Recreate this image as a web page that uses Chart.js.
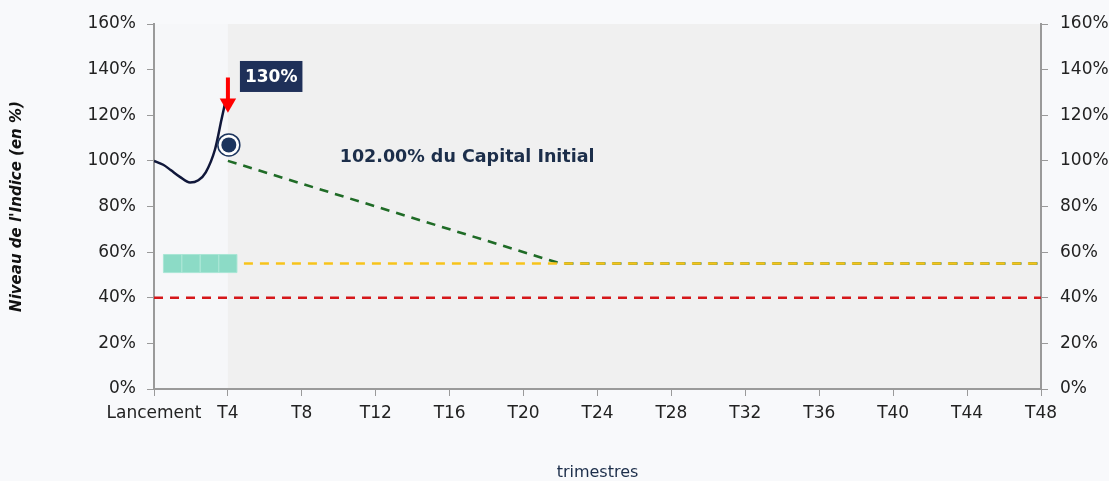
<!DOCTYPE html>
<html>
<head>
<meta charset="utf-8">
<script src="https://cdn.jsdelivr.net/npm/chart.js@4.4.1/dist/chart.umd.min.js"></script>
<style>
  html, body { margin: 0; padding: 0; background: #f8f9fb; }
  #wrap { width: 1109px; height: 481px; position: relative; }
</style>
</head>
<body>
<div id="wrap"><canvas id="c"></canvas></div>
<script>
// ---- Data ----
const xTickValues = [0, 4, 8, 12, 16, 20, 24, 28, 32, 36, 40, 44, 48];
const xTickLabels = ['Lancement', 'T4', 'T8', 'T12', 'T16', 'T20', 'T24', 'T28', 'T32', 'T36', 'T40', 'T44', 'T48'];
const yTicks = [0, 20, 40, 60, 80, 100, 120, 140, 160];

const indexX = [0, 0.5, 0.9, 1.4, 1.95, 2.4, 2.8, 3.3, 3.65, 3.85];
const indexY = [100, 98.3, 96, 93, 90.5, 91.5, 95, 105, 118, 125.5];

const capitalX = [4, 22, 48];
const capitalY = [100, 55, 55];

const couponX = [4, 48];
const couponY = [55, 55];

const barrierX = [0, 48];
const barrierY = [40, 40];

const observX = [1, 2, 3, 4];
const observY = [55, 55, 55, 55];

const markerX = [4.05];
const markerY = [107];

const arrowX = [4, 4];
const arrowY = [136.5, 126];
const arrowHeadY = [125.3];

const currentLevelLabel = '130%';
const currentLevelLabelY = 137;
const capitalLabel = '102.00% du Capital Initial';
const capitalLabelX = 10.05;
const capitalLabelY = 101.3;
const shadeStart = 4;

const pts = (xs, ys) => xs.map((x, i) => ({x: x, y: ys[i]}));

const FONT = "'DejaVu Sans', sans-serif";
const NAVY = '#1c2e4a';

const decorPlugin = {
  id: 'decor',
  beforeDraw(chart) {
    const {ctx, chartArea: a, scales} = chart;
    ctx.save();
    ctx.fillStyle = '#f8f9fb';
    ctx.fillRect(0, 0, chart.width, chart.height);
    const xs = scales.x.getPixelForValue(shadeStart);
    ctx.fillStyle = '#f6f7f9';
    ctx.fillRect(a.left, a.top, xs - a.left, a.bottom - a.top);
    ctx.fillStyle = '#f0f0f0';
    ctx.fillRect(xs, a.top, a.right - xs, a.bottom - a.top);
    ctx.restore();
  },
  afterDatasetsDraw(chart) {
    const {ctx, scales} = chart;
    ctx.save();
    // capital label
    ctx.font = "bold 17.5px " + FONT;
    ctx.fillStyle = NAVY;
    ctx.textBaseline = 'middle';
    ctx.textAlign = 'left';
    ctx.fillText(capitalLabel, scales.x.getPixelForValue(capitalLabelX), scales.y.getPixelForValue(capitalLabelY));
    // level label box
    const bx = scales.x.getPixelForValue(4) + 12;
    const by = scales.y.getPixelForValue(currentLevelLabelY);
    ctx.font = "bold 17px " + FONT;
    const w = ctx.measureText(currentLevelLabel).width + 10;
    ctx.fillStyle = '#1f3059';
    ctx.fillRect(bx, by - 15.5, w, 31);
    ctx.fillStyle = '#ffffff';
    ctx.fillText(currentLevelLabel, bx + 5, by + 1);
    ctx.restore();
  }
};

new Chart(document.getElementById('c'), {
  type: 'scatter',
  data: {
    datasets: [
      { // arrow head
        data: pts(arrowX.slice(0, 1), arrowHeadY),
        pointStyle: 'triangle', rotation: 180, pointRadius: 9.5,
        backgroundColor: '#ff0000', borderColor: '#ff0000', borderWidth: 0, showLine: false
      },
      { // arrow shaft
        data: pts(arrowX, arrowY), showLine: true, borderColor: '#ff0000', borderWidth: 4,
        pointRadius: 0
      },
      { // marker inner
        data: pts(markerX, markerY), pointRadius: 7.5, backgroundColor: '#1c355e',
        borderColor: '#1c355e', borderWidth: 0, showLine: false
      },
      { // marker ring
        data: pts(markerX, markerY), pointRadius: 11, backgroundColor: '#ffffff',
        borderColor: '#1c355e', borderWidth: 1.5, showLine: false
      },
      { // index curve
        data: pts(indexX, indexY), showLine: true, borderColor: '#10173a', borderWidth: 2.5,
        pointRadius: 0, cubicInterpolationMode: 'monotone'
      },
      { // observation squares
        data: pts(observX, observY), pointStyle: 'rect', pointRadius: 12.8,
        backgroundColor: '#8cdbc6', borderColor: '#a9e6d5', borderWidth: 1, showLine: false
      },
      { // coupon barrier
        data: pts(couponX, couponY), showLine: true, borderColor: '#f7c31b', borderWidth: 2.4,
        borderDash: [9, 7], pointRadius: 0
      },
      { // capital line
        data: pts(capitalX, capitalY), showLine: true, borderColor: '#1f6b26', borderWidth: 2.6,
        borderDash: [9, 7], pointRadius: 0
      },
      { // protection barrier
        data: pts(barrierX, barrierY), showLine: true, borderColor: '#d5171a', borderWidth: 2.4,
        borderDash: [9, 7], pointRadius: 0
      }
    ]
  },
  options: {
    responsive: true,
    maintainAspectRatio: false,
    animation: false,
    layout: { padding: { top: 24, left: 0, right: 0, bottom: 0 } },
    plugins: { legend: { display: false }, tooltip: { enabled: false } },
    scales: {
      x: {
        type: 'linear', min: 0, max: 48,
        afterBuildTicks(s) { s.ticks = xTickValues.map(v => ({value: v})); },
        afterFit(s) { s.height = 92; },
        grid: { drawOnChartArea: false, tickLength: 7, color: '#9a9a9a' },
        border: { color: '#9a9a9a', width: 2 },
        ticks: {
          autoSkip: false, maxRotation: 0, padding: 7, color: '#222',
          font: { family: FONT, size: 17 },
          callback(v) { const i = xTickValues.indexOf(v); return i >= 0 ? xTickLabels[i] : ''; }
        },
        title: { display: true, text: 'trimestres', color: NAVY, padding: { top: 0, bottom: -1 },
          font: { family: FONT, size: 16 } }
      },
      y: {
        type: 'linear', position: 'left', min: 0, max: 160,
        afterBuildTicks(s) { s.ticks = yTicks.map(v => ({value: v})); },
        afterFit(s) { s.width = 154; },
        grid: { drawOnChartArea: false, tickLength: 7, color: '#9a9a9a' },
        border: { color: '#9a9a9a', width: 2 },
        ticks: { padding: 11, color: '#222', font: { family: FONT, size: 17 }, callback: v => v + '%' },
        title: { display: true, text: "Niveau de l'Indice (en %)", color: '#111',
          padding: { top: 8, bottom: 0 }, font: { family: FONT, size: 15, weight: 'bold', style: 'italic' } }
      },
      y2: {
        type: 'linear', position: 'right', min: 0, max: 160,
        afterBuildTicks(s) { s.ticks = yTicks.map(v => ({value: v})); },
        afterFit(s) { s.width = 68; },
        grid: { drawOnChartArea: false, tickLength: 7, color: '#9a9a9a' },
        border: { color: '#9a9a9a', width: 2 },
        ticks: { padding: 12, color: '#222', font: { family: FONT, size: 17 }, callback: v => v + '%' }
      }
    }
  },
  plugins: [decorPlugin]
});
</script>
</body>
</html>
